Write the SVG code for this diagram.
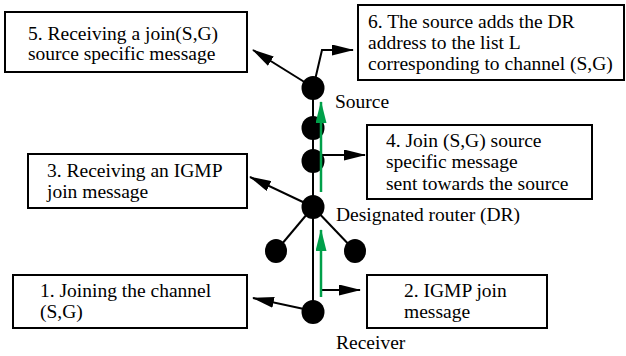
<svg xmlns="http://www.w3.org/2000/svg" width="626" height="356" viewBox="0 0 626 356">
<style>
.box{fill:#fff;stroke:#000;stroke-width:2}
.node{fill:#000}
.edge{stroke:#000;stroke-width:2;fill:none}
.arr{stroke:#000;stroke-width:2;fill:none;marker-end:url(#ah)}
.garr{stroke:#00A04A;stroke-width:2.5;fill:none;marker-end:url(#gh)}
</style>
<defs>
<marker id="ah" viewBox="0 0 22 11" refX="21" refY="5.5" markerWidth="22" markerHeight="11" markerUnits="userSpaceOnUse" orient="auto">
<path d="M0,0 L22,5.5 L0,11 Z" fill="#000"/>
</marker>
<marker id="gh" viewBox="0 0 22 11" refX="21" refY="5.5" markerWidth="22" markerHeight="11" markerUnits="userSpaceOnUse" orient="auto">
<path d="M0,0 L22,5.5 L0,11 Z" fill="#00A04A"/>
</marker>
</defs>

<g id="connectors">
<line class="edge" x1="313" y1="88" x2="313" y2="312"/>
<line class="edge" x1="313" y1="207" x2="276" y2="251"/>
<line class="edge" x1="313" y1="207" x2="355" y2="251"/>
<polyline class="arr" points="306,83 253,50"/>
<polyline class="arr" points="315,80 322,50 353,50"/>
<polyline class="arr" points="321,155 365,155"/>
<polyline class="arr" points="305,203 250,177"/>
<polyline class="arr" points="304,309 253,298"/>
<polyline class="arr" points="321,290 360,290"/>
</g>

<g id="n-source"><ellipse class="node" cx="313" cy="88" rx="11.5" ry="12"/></g>
<g id="n-r1"><ellipse class="node" cx="313" cy="128" rx="11.5" ry="12"/></g>
<g id="n-r2"><ellipse class="node" cx="313" cy="161" rx="11.5" ry="12"/></g>
<g id="n-dr"><ellipse class="node" cx="313" cy="207" rx="11.5" ry="12"/></g>
<g id="n-left"><ellipse class="node" cx="276" cy="251" rx="11" ry="12"/></g>
<g id="n-right"><ellipse class="node" cx="355" cy="251" rx="11" ry="12"/></g>
<g id="n-receiver"><ellipse class="node" cx="313" cy="312" rx="11.5" ry="12"/></g>

<g id="green-arrows">
<line class="garr" x1="321" y1="192" x2="321" y2="102"/>
<line class="garr" x1="321" y1="297" x2="321" y2="230"/>
</g>

<g font-family="Liberation Serif, Times New Roman, serif" font-size="19.5" fill="#000">
<g id="labels">
<text x="335" y="108">Source</text>
<text x="336" y="221">Designated router (DR)</text>
<text x="336" y="349">Receiver</text>
</g>

<g id="box5">
<rect class="box" x="5" y="12" width="242" height="60"/>
<text x="28" y="40">5. Receiving a join(S,G)</text>
<text x="28" y="60">source specific message</text>
</g>
<g id="box6">
<rect class="box" x="358" y="5" width="266" height="75"/>
<text x="368" y="28">6. The source adds the DR</text>
<text x="368" y="49">address to the list L</text>
<text x="368" y="70">corresponding to channel (S,G)</text>
</g>
<g id="box3">
<rect class="box" x="28" y="154" width="219" height="54"/>
<text x="47" y="177">3. Receiving an IGMP</text>
<text x="47" y="198">join message</text>
</g>
<g id="box4">
<rect class="box" x="367" y="125" width="225" height="74"/>
<text x="386" y="147">4. Join (S,G) source</text>
<text x="386" y="168">specific message</text>
<text x="386" y="190">sent towards the source</text>
</g>
<g id="box1">
<rect class="box" x="13" y="275" width="234" height="53"/>
<text x="40" y="297">1. Joining the channel</text>
<text x="40" y="318">(S,G)</text>
</g>
<g id="box2">
<rect class="box" x="367" y="275" width="180" height="53"/>
<text x="404" y="297">2. IGMP join</text>
<text x="404" y="318">message</text>
</g>
</g>
</svg>
